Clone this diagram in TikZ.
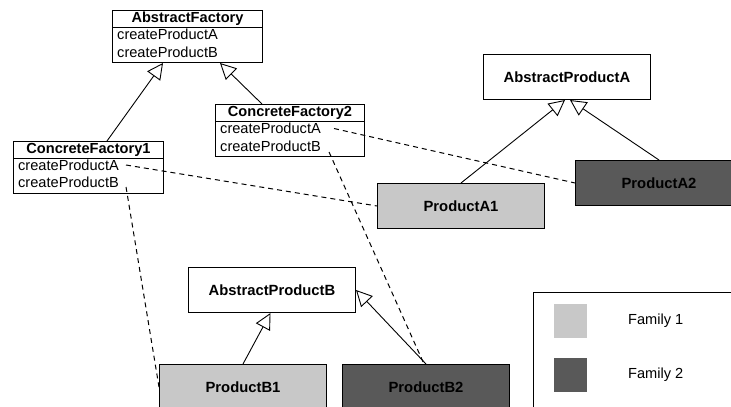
\documentclass[tikz,border=0pt]{standalone}
\usepackage{fontspec}
\setmainfont{Liberation Sans}
\usetikzlibrary{arrows.meta}

\definecolor{famone}{HTML}{C8C8C8}
\definecolor{famtwo}{HTML}{595959}

\begin{document}
\begin{tikzpicture}[x=1pt,y=-1pt,
  txt/.style={font=\fontsize{14.6}{17}\selectfont},
  classtitle/.style={draw, line width=1pt, inner sep=0pt, anchor=north west,
    minimum height=17pt, font=\fontsize{14.6}{17}\selectfont\bfseries},
  classbody/.style={draw, line width=1pt, inner sep=0pt, anchor=north west,
    minimum height=35pt},
  meth/.style={txt, inner sep=0pt, anchor=west},
  product/.style={draw, line width=1pt, inner sep=0pt, anchor=north west,
    minimum width=167pt, minimum height=45pt,
    font=\fontsize{14.8}{17}\selectfont\bfseries},
  swatch/.style={inner sep=0pt, anchor=north west, minimum width=33pt, minimum height=34pt},
  gen/.style={line width=0.9pt, -{Triangle[open, length=16pt, width=16pt]}},
  uses/.style={line width=1pt, dash pattern=on 5pt off 4pt},
]
\useasboundingbox (0,0) rectangle (731,407);

% factory classes
\node[classtitle, minimum width=150pt] (af) at (112,10) {AbstractFactory};
\node[classbody, minimum width=150pt] (afb) at (112,27) {};
\node[meth] (afa) at (117,34.5) {createProductA};
\node[meth] (afbm) at (117,52) {createProductB};

\node[classtitle, minimum width=150pt] (cf1) at (13,141) {ConcreteFactory1};
\node[classbody, minimum width=150pt] (cf1b) at (13,158) {};
\node[meth] (cf1a) at (18,165) {createProductA};
\node[meth] (cf1bm) at (18,182.5) {createProductB};

\node[classtitle, minimum width=149pt] (cf2) at (215,104) {ConcreteFactory2};
\node[classbody, minimum width=149pt] (cf2b) at (215,121) {};
\node[meth] (cf2a) at (220,128.5) {createProductA};
\node[meth] (cf2bm) at (220,146) {createProductB};

% product classes
\node[product] (apa) at (483,54) {AbstractProductA};
\node[product, fill=famone] (pa1) at (377,183) {ProductA1};
\node[product, fill=famtwo] (pa2) at (575,160) {ProductA2};

\node[product] (apb) at (188,267) {AbstractProductB};
\node[product, fill=famone] (pb1) at (159,364) {ProductB1};
\node[product, fill=famtwo] (pb2) at (342,364) {ProductB2};

% legend
\node[draw, line width=1pt, inner sep=0pt, anchor=north west,
  minimum width=230pt, minimum height=130pt] (legend) at (533,292) {};
\node[swatch, fill=famone] (sw1) at (554,304) {};
\node[swatch, fill=famtwo] (sw2) at (554,358) {};
\node[meth] (lab1) at (628,321) {Family 1};
\node[meth] (lab2) at (628,375) {Family 2};

% generalisation
\draw[gen] ([xshift=94pt]cf1.north west) -- ([xshift=51pt]afb.south west);
\draw[gen] ([xshift=47pt]cf2.north west) -- ([xshift=108pt]afb.south west);
\draw[gen] (pa1.north) -- ([xshift=-2pt]apa.south);
\draw[gen] (pa2.north) -- ([xshift=3pt]apa.south);
\draw[gen] (pb1.north) -- ([xshift=-1.5pt]apb.south);
\draw[gen] (pb2.north) -- (apb.east);

% creation dependencies
\draw[uses] ([xshift=7pt]cf1a.east) -- (pa1.west);
\draw[uses] ([xshift=7pt,yshift=-4.5pt]cf1bm.east) -- (pb1.west);
\draw[uses] ([xshift=13pt]cf2a.east) -- (pa2.west);
\draw[uses] ([xshift=8pt,yshift=-6pt]cf2bm.east) -- ([xshift=-2pt]pb2.north);
\end{tikzpicture}
\end{document}
